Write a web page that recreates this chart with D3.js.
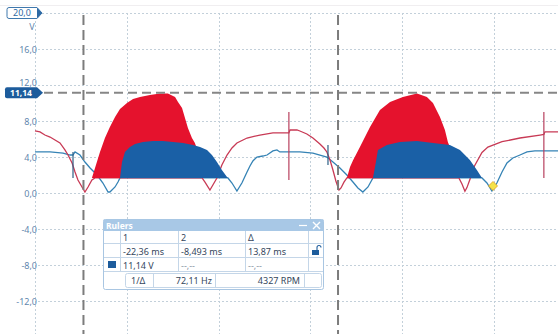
<!DOCTYPE html>
<html><head><meta charset="utf-8">
<script src="https://cdn.jsdelivr.net/npm/d3@7"></script>
<style>html,body{margin:0;padding:0;background:#fff;}svg{display:block;}</style>
</head><body>
<svg id="c" width="558" height="334"></svg>
<script>
// ---- data (time in ms, voltage in V) ----
const timeTicks = [-25, -20, -15, -10, -5, 0];
const voltTicks = [16, 12, 8, 4, 0, -4, -8, -12];
const voltTickLabels = ["16,0", "12,0", "8,0", "4,0", "0,0", "-4,0", "-8,0", "-12,0"];
const voltTop = 20;
const voltTopLabel = "20,0";
const unitLabel = "V";
const cursorTimes = [-22.36, -8.493];
const cursorVolt = 11.14;
const cursorVoltLabel = "11,14";
const fillBase = 1.67;

const redLine = [[-25.00,6.9],[-24.73,6.78],[-24.46,6.44],[-24.18,6.22],[-23.91,5.89],[-23.64,5.56],[-23.37,4.78],[-23.20,4.22],[-22.98,3.33],[-22.82,2.33],[-22.66,1.44],[-22.44,0.67],[-22.28,0.11],[-22.11,0.67],[-21.90,1.44],[-21.73,1.67],
  [-15.90,1.67],[-15.74,1.2],[-15.47,0.33],[-15.31,0.89],[-15.09,1.67],[-14.82,3.11],[-14.54,4.22],[-14.27,5.0],[-14.00,5.56],[-13.45,6.11],[-12.75,6.44],[-12.04,6.67],[-11.17,6.67],[-11.11,7.0],[-10.73,7.0],[-10.57,6.89],[-10.19,6.56],[-9.86,6.11],[-9.48,5.44],[-9.26,5.0],[-9.10,4.56],[-8.93,3.67],[-8.77,2.56],[-8.61,1.33],[-8.44,0.33],[-8.33,0.56],[-8.17,1.2],[-8.01,1.67],
  [-1.91,1.67],[-1.74,1.0],[-1.58,0.2],[-1.47,0.6],[-1.31,1.5],[-1.06,3.0],[-0.65,4.5],[-0.33,5.1],[0.44,5.7],[1.42,6.11],[2.51,6.44],[2.72,6.5],[2.78,6.8],[3.49,6.8]];

const redFill1 = [[-21.90,1.67],[-21.73,2.78],[-21.46,4.56],[-21.19,6.11],[-20.92,7.33],[-20.64,8.44],[-20.37,9.33],[-19.99,10.0],[-19.66,10.44],[-19.28,10.67],[-18.74,10.89],[-18.19,11.05],[-17.76,11.05],[-17.37,10.67],[-17.21,10.11],[-16.99,9.44],[-16.83,8.33],[-16.67,7.22],[-16.45,6.11],[-16.29,5.56],[-16.12,4.56],[-15.90,3.11],[-15.74,1.67]];
const redFill2 = [[-8.01,1.67],[-7.84,2.9],[-7.68,3.6],[-7.30,5.11],[-6.75,7.33],[-6.21,9.22],[-5.66,10.11],[-4.96,10.67],[-4.19,11.05],[-3.65,10.67],[-3.32,10.0],[-2.94,8.44],[-2.67,7.0],[-2.51,5.67],[-2.23,4.22],[-2.02,2.78],[-1.85,1.67]];

const blueLine = [[-25.00,4.56],[-24.18,4.56],[-23.47,4.44],[-23.09,4.22],[-22.93,4.22],[-22.82,4.56],[-22.55,4.22],[-22.28,3.44],[-22.00,2.78],[-21.62,2.0],[-21.30,1.11],[-21.02,0.11],[-20.92,0.11],[-20.64,0.67],[-20.48,1.22],[-20.37,1.67],
  [-14.49,1.67],[-14.27,1.11],[-14.00,0.22],[-13.73,1.11],[-13.45,2.33],[-13.29,3.0],[-13.13,3.56],[-12.91,4.0],[-12.59,4.11],[-12.36,4.22],[-12.04,4.67],[-11.82,4.78],[-11.66,4.56],[-11.11,4.56],[-10.57,4.56],[-9.86,4.44],[-9.48,4.22],[-9.10,4.0],[-8.77,3.44],[-8.39,2.78],[-8.01,2.0],[-7.68,1.22],[-7.41,0.56],[-7.14,0.11],[-6.86,0.67],[-6.59,1.67],
  [-0.65,1.67],[-0.38,1.11],[-0.11,0.22],[0.16,1.11],[0.44,2.33],[0.71,3.33],[1.03,3.89],[1.42,4.22],[1.80,4.56],[2.23,4.67],[3.49,4.67]];

const blueFill1 = [[-20.37,1.67],[-20.26,3.44],[-20.10,4.56],[-19.83,5.11],[-19.55,5.44],[-19.12,5.67],[-18.57,5.78],[-18.03,5.78],[-17.48,5.67],[-16.94,5.56],[-16.39,5.33],[-16.01,5.11],[-15.63,4.78],[-15.36,4.22],[-15.09,3.44],[-14.82,2.56],[-14.54,1.78],[-14.49,1.67]];
const blueFill2 = [[-6.59,1.67],[-6.43,3.44],[-6.32,4.78],[-5.83,5.33],[-5.12,5.67],[-4.19,5.78],[-3.32,5.56],[-2.40,5.33],[-1.85,4.78],[-1.31,3.67],[-0.93,2.56],[-0.65,1.67]];

const redSpikes = [[-11.17, 9.0, 1.44], [2.72, 9.0, 1.67]];
const blueSpikes = [[-22.93, 4.56, 1.67], [-9.04, 5.33, 3.11]];
const markerPoint = [-0.05, 0.78];

const rulerTitle = "Rulers";
const rulerHeader = ["1", "2", "Δ"];
const rulerTimes = ["-22,36 ms", "-8,493 ms", "13,87 ms"];
const rulerVolts = ["11,14 V", "--,--", "--,--"];
const rulerInv = "1/Δ";
const rulerFreq = "72,11 Hz";
const rulerRpm = "4327 RPM";

// ---- drawing ----
const svg = d3.select("#c");
const font = "'Noto Sans', 'DejaVu Sans', sans-serif";
const x = d3.scaleLinear().domain([-25, 3.49]).range([35, 558]);
const y = d3.scaleLinear().domain([-16, 20]).range([337, 13]);

// faint top line
svg.append("line").attr("x1", 0).attr("x2", 558).attr("y1", 5.5).attr("y2", 5.5).attr("stroke", "#f0eef0").attr("stroke-width", 1);

// grid
const gridColor = "#c3d0da";
svg.append("g").selectAll("line").data([voltTop].concat(voltTicks)).join("line")
  .attr("x1", 38).attr("x2", 558).attr("y1", d => Math.round(y(d)) + 0.5).attr("y2", d => Math.round(y(d)) + 0.5)
  .attr("stroke", gridColor).attr("stroke-width", 1).attr("stroke-dasharray", "2,2");
svg.append("g").selectAll("line").data(timeTicks).join("line")
  .attr("x1", d => Math.round(x(d)) + 0.5).attr("x2", d => Math.round(x(d)) + 0.5).attr("y1", y(voltTop)).attr("y2", 334)
  .attr("stroke", gridColor).attr("stroke-width", 1).attr("stroke-dasharray", "2,2");

// y labels
const labelColor = "#5f87ae";
svg.append("g").selectAll("text").data(voltTicks).join("text")
  .attr("x", 37).attr("y", d => y(d) + (d === 12 ? 1 : 3.5)).attr("text-anchor", "end")
  .attr("font-family", font).attr("font-size", 9).attr("fill", labelColor)
  .text((d, i) => voltTickLabels[i]);
svg.append("text").attr("x", 32).attr("y", 30).attr("text-anchor", "middle")
  .attr("font-family", font).attr("font-size", 9).attr("fill", labelColor).text(unitLabel);

// lines
const line = d3.line().x(d => x(d[0])).y(d => y(d[1]));
const area = d3.area().x(d => x(d[0])).y0(y(fillBase)).y1(d => y(d[1]));

svg.append("path").datum(blueLine).attr("d", line).attr("fill", "none").attr("stroke", "#3583b5").attr("stroke-width", 1.3);
svg.append("path").datum(redLine).attr("d", line).attr("fill", "none").attr("stroke", "#c83a55").attr("stroke-width", 1.3);

// fills
[redFill1, redFill2].forEach(f => svg.append("path").datum(f).attr("d", area).attr("fill", "#e5122d"));
[blueFill1, blueFill2].forEach(f => svg.append("path").datum(f).attr("d", area).attr("fill", "#1a60a6"));

// spikes
svg.append("g").selectAll("line").data(redSpikes).join("line")
  .attr("x1", d => x(d[0])).attr("x2", d => x(d[0])).attr("y1", d => y(d[1])).attr("y2", d => y(d[2]))
  .attr("stroke", "#b8405e").attr("stroke-width", 1.2);
svg.append("g").selectAll("line").data(blueSpikes).join("line")
  .attr("x1", d => x(d[0])).attr("x2", d => x(d[0])).attr("y1", d => y(d[1])).attr("y2", d => y(d[2]))
  .attr("stroke", "#2d5f86").attr("stroke-width", 1.2);

// marker
const mx = x(markerPoint[0]), my = y(markerPoint[1]);
svg.append("path").attr("d", `M${mx},${my-4.5}L${mx+4.5},${my}L${mx},${my+4.5}L${mx-4.5},${my}Z`)
  .attr("fill", "#f4e24a").attr("stroke", "#e0a020").attr("stroke-width", 0.8);

// cursors
svg.append("line").attr("x1", 44).attr("x2", 558).attr("y1", y(cursorVolt)).attr("y2", y(cursorVolt))
  .attr("stroke", "#868686").attr("stroke-width", 2).attr("stroke-dasharray", "9,5");
svg.append("g").selectAll("line").data(cursorTimes).join("line")
  .attr("x1", d => x(d)).attr("x2", d => x(d)).attr("y1", 15).attr("y2", 334)
  .attr("stroke", "#7c7c7c").attr("stroke-width", 2).attr("stroke-dasharray", "10,5");

// top label box "20,0"
const ty = y(voltTop);
svg.append("path").attr("d", `M9,${ty-5.5}H37L42,${ty}L37,${ty+5.5}H9Q7,${ty+5.5} 7,${ty+3.5}V${ty-3.5}Q7,${ty-5.5} 9,${ty-5.5}Z`)
  .attr("fill", "#fff").attr("stroke", "#3f78ad").attr("stroke-width", 1);
svg.append("path").attr("d", `M37,${ty-5.5}L42,${ty}L37,${ty+5.5}Z`).attr("fill", "#2d6aa5");
svg.append("text").attr("x", 22).attr("y", ty + 3.3).attr("text-anchor", "middle")
  .attr("font-family", font).attr("font-size", 9).attr("fill", "#2f6aa3").text(voltTopLabel);

// cursor label box "11,14"
const cy = y(cursorVolt);
svg.append("path").attr("d", `M7,${cy-5.5}H37L43,${cy}L37,${cy+5.5}H7Q5,${cy+5.5} 5,${cy+3.5}V${cy-3.5}Q5,${cy-5.5} 7,${cy-5.5}Z`)
  .attr("fill", "#1d5c9c");
svg.append("text").attr("x", 21).attr("y", cy + 3.6).attr("text-anchor", "middle")
  .attr("font-family", font).attr("font-size", 8.5).attr("font-weight", "bold").attr("fill", "#fff").text(cursorVoltLabel);

// rulers panel
const P = svg.append("g");
const txt = "#34465c", bord = "#c4d6e8";
P.append("rect").attr("x", 103.5).attr("y", 219.5).attr("width", 220).attr("height", 70).attr("rx", 2)
  .attr("fill", "#fff").attr("stroke", "#a9c6e2").attr("stroke-width", 1);
P.append("rect").attr("x", 103.5).attr("y", 219.5).attr("width", 220).attr("height", 11.5).attr("fill", "#a8c8e6");
P.append("text").attr("x", 106).attr("y", 228.5).attr("font-family", font).attr("font-size", 8.5).attr("font-weight", "bold").attr("fill", "#fff").text(rulerTitle);
P.append("line").attr("x1", 299).attr("x2", 307).attr("y1", 225.5).attr("y2", 225.5).attr("stroke", "#fff").attr("stroke-width", 1.2);
P.append("path").attr("d", "M313,222L320,229M320,222L313,229").attr("stroke", "#fff").attr("stroke-width", 1.4);
const rowsY = [243.5, 257.5, 271.5];
rowsY.forEach(v => P.append("line").attr("x1", 104).attr("x2", 323).attr("y1", v).attr("y2", v).attr("stroke", bord));
[120.5, 178.5, 245.5, 308.5].forEach(v => P.append("line").attr("x1", v).attr("x2", v).attr("y1", 231).attr("y2", 271.5).attr("stroke", bord));
P.append("rect").attr("x", 125.5).attr("y", 273.5).attr("width", 196).attr("height", 14).attr("rx", 2).attr("fill", "none").attr("stroke", bord);
[153.5, 215.5, 304.5].forEach(v => P.append("line").attr("x1", v).attr("x2", v).attr("y1", 273.5).attr("y2", 287.5).attr("stroke", bord));
const colX = [123, 181, 248];
const tAttr = s => s.attr("font-family", font).attr("font-size", 9).attr("fill", txt);
rulerHeader.forEach((t, i) => tAttr(P.append("text").attr("x", colX[i]).attr("y", 240.5)).text(t));
rulerTimes.forEach((t, i) => tAttr(P.append("text").attr("x", colX[i]).attr("y", 254.5)).text(t));
rulerVolts.forEach((t, i) => tAttr(P.append("text").attr("x", colX[i]).attr("y", 268.5)).text(t).attr("fill", i ? "#8a96a4" : txt));
P.append("rect").attr("x", 108).attr("y", 261).attr("width", 8).attr("height", 7).attr("fill", "#1d5c9c");
tAttr(P.append("text").attr("x", 131).attr("y", 284)).text(rulerInv);
tAttr(P.append("text").attr("x", 212).attr("y", 284).attr("text-anchor", "end")).text(rulerFreq);
tAttr(P.append("text").attr("x", 300).attr("y", 284).attr("text-anchor", "end")).text(rulerRpm);
// lock icon
P.append("rect").attr("x", 312).attr("y", 250).attr("width", 7).attr("height", 5).attr("fill", "#1d5c9c");
P.append("path").attr("d", "M317,250V247.5A2,2 0 0 1 321,247.5").attr("fill", "none").attr("stroke", "#1d5c9c").attr("stroke-width", 1.1);
</script>
</body></html>
